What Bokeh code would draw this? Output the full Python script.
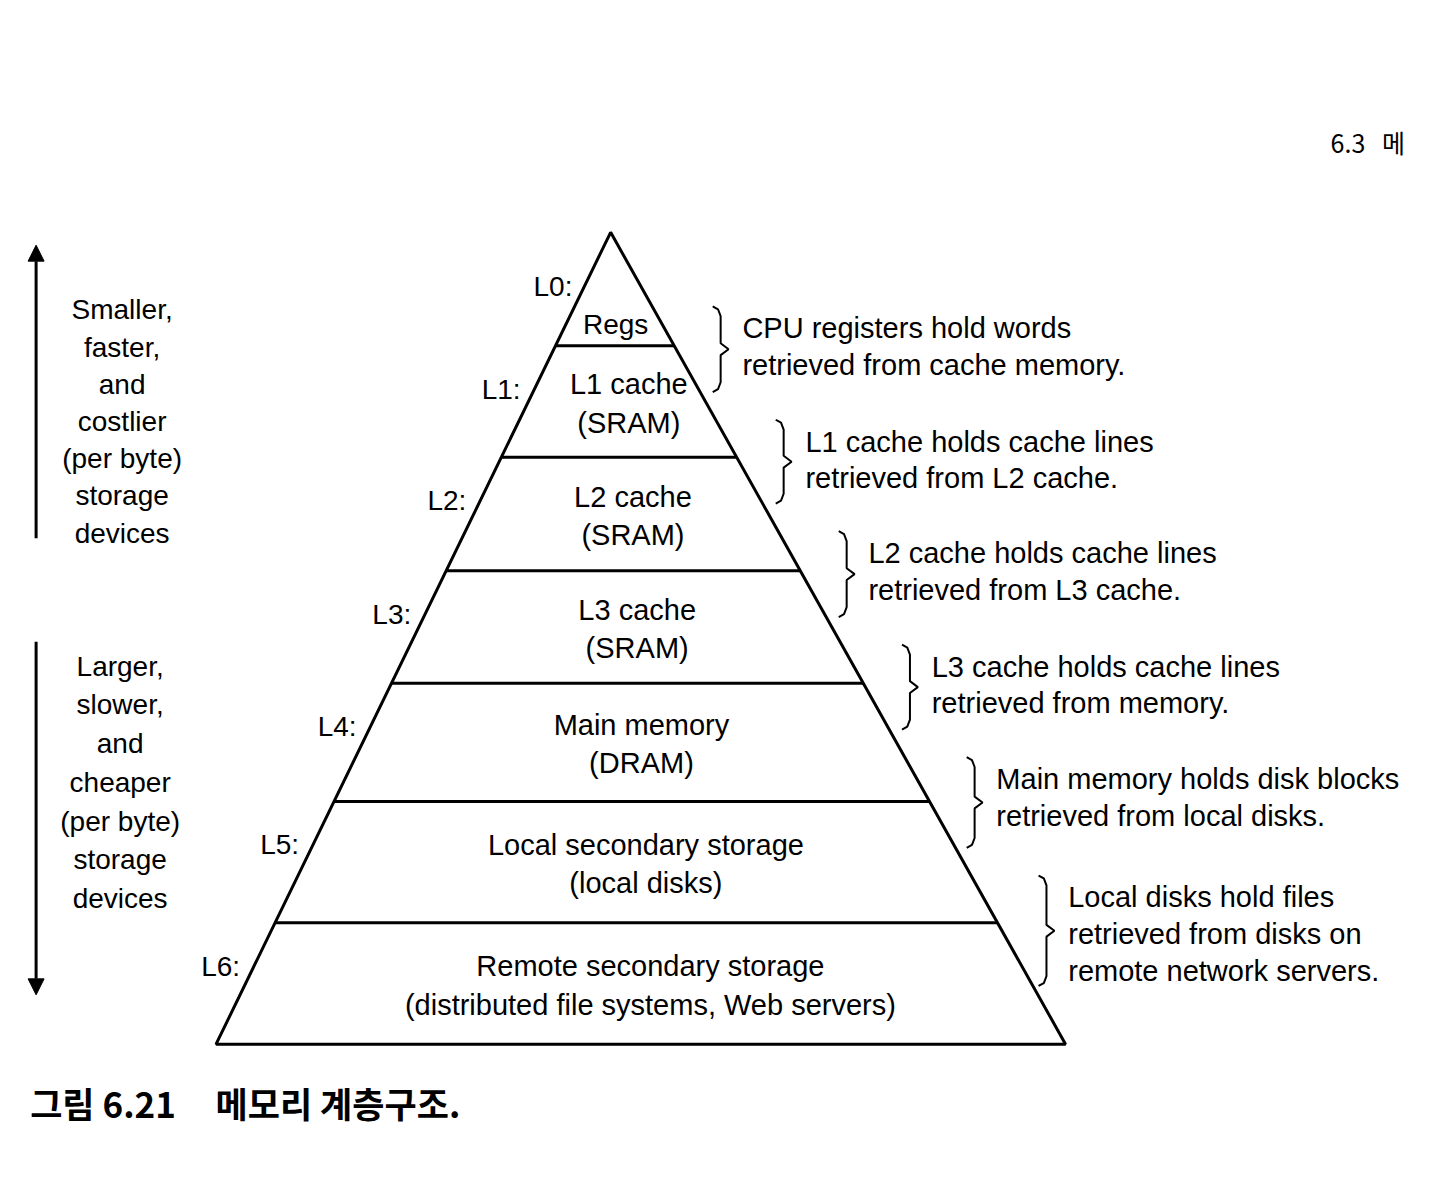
from bokeh.plotting import figure
from bokeh.models import Range1d, Arrow, NormalHead
from bokeh.core.properties import value
from bokeh.embed import file_html
from bokeh.resources import INLINE

# level data
level_tags = ["L0:", "L1:", "L2:", "L3:", "L4:", "L5:", "L6:"]
level_names = ["Regs", "L1 cache\n(SRAM)", "L2 cache\n(SRAM)", "L3 cache\n(SRAM)",
               "Main memory\n(DRAM)", "Local secondary storage\n(local disks)",
               "Remote secondary storage\n(distributed file systems, Web servers)"]
bounds = [235, 350, 463, 578, 692, 812, 935, 1058]   # level boundaries (top of each level)
notes = ["CPU registers hold words\nretrieved from cache memory.",
         "L1 cache holds cache lines\nretrieved from L2 cache.",
         "L2 cache holds cache lines\nretrieved from L3 cache.",
         "L3 cache holds cache lines\nretrieved from memory.",
         "Main memory holds disk blocks\nretrieved from local disks.",
         "Local disks hold files\nretrieved from disks on\nremote network servers."]

FONT = value("Liberation Sans")
apex_x, base_l, base_r = 617, 218, 1077
top, bot = bounds[0], bounds[-1]

def left_x(y):
    return apex_x - (y - top) * (apex_x - base_l) / (bot - top)

def right_x(y):
    return apex_x + (y - top) * (base_r - apex_x) / (bot - top)

p = figure(width=1424, height=1167, output_backend="svg", toolbar_location=None,
           x_range=Range1d(0, 1440), y_range=Range1d(1183, 0), min_border=0)
p.axis.visible = False
p.grid.visible = False
p.outline_line_color = None

# pyramid outline
p.patch([apex_x, base_r, base_l], [top, bot, bot], fill_color=None,
        line_color="black", line_width=3)
for y in bounds[1:-1]:
    p.line([left_x(y), right_x(y)], [y, y], line_color="black", line_width=3)

# level names and tags
for i, (tag, name) in enumerate(zip(level_tags, level_names)):
    y0, y1 = bounds[i], bounds[i + 1]
    ym = (y0 + y1) / 2
    if i == 0:
        p.text([622], [328], text=[name], text_font=FONT, text_font_size="28px",
               text_align="center", text_baseline="middle")
        p.text([left_x(290) - 12], [290], text=[tag], text_font=FONT,
               text_font_size="28px", text_align="right", text_baseline="middle")
        continue
    cx = (left_x(ym) + right_x(ym)) / 2 + 12
    p.text([cx], [ym + 2], text=[name], text_font=FONT, text_font_size="29px",
           text_align="center", text_baseline="middle", text_line_height=1.2)
    ty = y0 + 44
    p.text([left_x(ty) - 14], [ty], text=[tag], text_font=FONT,
           text_font_size="28px", text_align="right", text_baseline="middle")

# braces and notes
def brace(x, y0, y1, w=8):
    ym = (y0 + y1) / 2
    xs = [x - w, x - w / 3, x, x, x + w, x, x, x - w / 3, x - w]
    ys = [y0, y0 + 3, y0 + 10, ym - 6, ym, ym + 6, y1 - 10, y1 - 3, y1]
    return xs, ys

for i, note in enumerate(notes):
    y0, y1 = bounds[i] + 75, bounds[i + 1] + 47
    if i == 5:
        y1 += 17
    bx = right_x((y0 + y1) / 2) + 45
    xs, ys = brace(bx, y0, y1)
    p.line(xs, ys, line_color="black", line_width=2)
    p.text([bx + 22], [y0 + 6], text=[note], text_font=FONT, text_font_size="29px",
           text_baseline="top", text_line_height=1.15)

# side arrows and captions
p.add_layout(Arrow(end=NormalHead(size=16, fill_color="black"), x_start=36, y_start=545,
                   x_end=36, y_end=248, line_width=3))
p.add_layout(Arrow(end=NormalHead(size=16, fill_color="black"), x_start=36, y_start=650,
                   x_end=36, y_end=1008, line_width=3))
p.text([123], [298], text=["Smaller,\nfaster,\nand\ncostlier\n(per byte)\nstorage\ndevices"],
       text_font=FONT, text_font_size="28px", text_align="center", text_baseline="top",
       text_line_height=1.2)
p.text([121], [659], text=["Larger,\nslower,\nand\ncheaper\n(per byte)\nstorage\ndevices"],
       text_font=FONT, text_font_size="28px", text_align="center", text_baseline="top",
       text_line_height=1.25)

# page header / caption
p.text([1345], [143], text=["6.3\u00a0\u00a0\u00a0메"], text_font=value("Noto Sans CJK KR"),
       text_font_size="25px", text_baseline="middle")
p.text([30], [1117], text=["그림 6.21\u00a0\u00a0\u00a0\u00a0\u00a0메모리 계층구조."],
       text_font=value("Noto Sans CJK KR"),
       text_font_size="35px", text_font_style="bold", text_baseline="middle")

open("out.html", "w").write(file_html(p, INLINE))
